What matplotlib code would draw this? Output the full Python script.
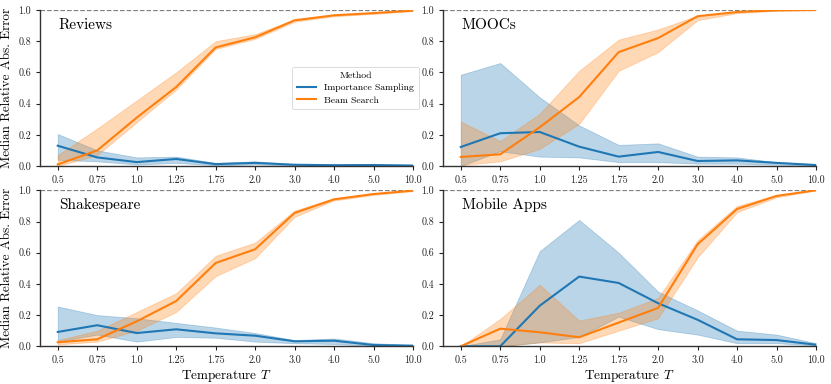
import numpy as np
import matplotlib
matplotlib.use("Agg")
import matplotlib.pyplot as plt

plt.rcParams['font.family'] = 'serif'
plt.rcParams['font.serif'] = ['cmr10', 'DejaVu Serif']
plt.rcParams['mathtext.fontset'] = 'cm'
plt.rcParams['axes.formatter.use_mathtext'] = True

temps = ["0.5", "0.75", "1.0", "1.25", "1.75", "2.0", "3.0", "4.0", "5.0", "10.0"]
datasets = ["Reviews", "MOOCs", "Shakespeare", "Mobile Apps"]

# Reviews
rev_is = [0.13, 0.055, 0.025, 0.045, 0.012, 0.02, 0.008, 0.005, 0.006, 0.003]
rev_is_lo = [0.04, 0.03, 0.01, 0.02, 0.005, 0.01, 0.004, 0.002, 0.002, 0.001]
rev_is_hi = [0.205, 0.10, 0.055, 0.06, 0.02, 0.03, 0.012, 0.01, 0.012, 0.006]
rev_bs = [0.01, 0.10, 0.31, 0.506, 0.76, 0.825, 0.934, 0.966, 0.98, 0.996]
rev_bs_lo = [0.0, 0.07, 0.28, 0.49, 0.75, 0.815, 0.925, 0.96, 0.975, 0.993]
rev_bs_hi = [0.07, 0.24, 0.42, 0.60, 0.80, 0.845, 0.94, 0.97, 0.985, 0.998]

# MOOCs
mooc_is = [0.122, 0.21, 0.218, 0.124, 0.06, 0.09, 0.032, 0.036, 0.02, 0.006]
mooc_is_lo = [0.0, 0.095, 0.06, 0.055, 0.025, 0.025, 0.015, 0.015, 0.008, 0.002]
mooc_is_hi = [0.585, 0.66, 0.44, 0.26, 0.135, 0.145, 0.06, 0.055, 0.025, 0.012]
mooc_bs = [0.058, 0.075, 0.248, 0.442, 0.73, 0.82, 0.96, 0.987, 0.998, 1.0]
mooc_bs_lo = [0.005, 0.03, 0.11, 0.27, 0.61, 0.73, 0.935, 0.98, 0.995, 1.0]
mooc_bs_hi = [0.285, 0.16, 0.335, 0.61, 0.81, 0.875, 0.965, 0.99, 1.0, 1.0]

# Shakespeare
shk_is = [0.092, 0.135, 0.085, 0.109, 0.083, 0.068, 0.032, 0.036, 0.008, 0.004]
shk_is_lo = [0.03, 0.075, 0.03, 0.06, 0.055, 0.03, 0.02, 0.015, 0.003, 0.001]
shk_is_hi = [0.255, 0.20, 0.18, 0.15, 0.12, 0.085, 0.04, 0.05, 0.02, 0.008]
shk_bs = [0.026, 0.045, 0.16, 0.29, 0.534, 0.622, 0.855, 0.942, 0.976, 0.998]
shk_bs_lo = [0.012, 0.03, 0.10, 0.22, 0.45, 0.565, 0.83, 0.935, 0.97, 0.995]
shk_bs_hi = [0.04, 0.10, 0.22, 0.34, 0.58, 0.665, 0.87, 0.95, 0.98, 1.0]

# Mobile Apps
app_is = [0.0, 0.0, 0.26, 0.447, 0.406, 0.276, 0.17, 0.045, 0.04, 0.01]
app_is_lo = [0.0, 0.0, 0.025, 0.06, 0.19, 0.11, 0.075, 0.02, 0.02, 0.005]
app_is_hi = [0.0, 0.045, 0.61, 0.81, 0.60, 0.35, 0.23, 0.10, 0.075, 0.02]
app_bs = [0.0, 0.113, 0.09, 0.058, 0.152, 0.246, 0.654, 0.88, 0.964, 1.0]
app_bs_lo = [0.0, 0.0, 0.025, 0.02, 0.10, 0.18, 0.57, 0.86, 0.955, 1.0]
app_bs_hi = [0.0, 0.175, 0.395, 0.165, 0.215, 0.31, 0.68, 0.90, 0.97, 1.0]

series = {
    "Reviews": (rev_is, rev_is_lo, rev_is_hi, rev_bs, rev_bs_lo, rev_bs_hi),
    "MOOCs": (mooc_is, mooc_is_lo, mooc_is_hi, mooc_bs, mooc_bs_lo, mooc_bs_hi),
    "Shakespeare": (shk_is, shk_is_lo, shk_is_hi, shk_bs, shk_bs_lo, shk_bs_hi),
    "Mobile Apps": (app_is, app_is_lo, app_is_hi, app_bs, app_bs_lo, app_bs_hi),
}

BLUE = '#1f77b4'
ORANGE = '#ff7f0e'

W, H = 831, 384
fig = plt.figure(figsize=(W / 100, H / 100), dpi=100)

def rect(x0, y0, x1, y1):
    return [x0 / W, (H - y1) / H, (x1 - x0) / W, (y1 - y0) / H]

rects = [rect(40, 10, 413, 166), rect(443, 10, 816, 166),
         rect(40, 190.3, 413, 346.3), rect(443, 190.3, 816, 346.3)]

x = np.arange(len(temps))
for i, name in enumerate(datasets):
    ax = fig.add_axes(rects[i])
    is_m, is_lo, is_hi, bs_m, bs_lo, bs_hi = series[name]
    ax.fill_between(x, is_lo, is_hi, color=BLUE, alpha=0.3, lw=0.6)
    ax.plot(x, is_m, color=BLUE, lw=1.5, label='Importance Sampling')
    ax.fill_between(x, bs_lo, bs_hi, color=ORANGE, alpha=0.3, lw=0.6)
    ax.plot(x, bs_m, color=ORANGE, lw=1.5, label='Beam Search')
    ax.axhline(1.0, color='gray', ls='--', lw=0.9, zorder=0)
    ax.set_xlim(-0.45, 9)
    ax.set_ylim(0, 1)
    ax.set_xticks(x)
    ax.set_xticklabels(temps)
    ax.set_yticks([0, 0.2, 0.4, 0.6, 0.8, 1.0])
    ax.set_yticklabels(["0.0", "0.2", "0.4", "0.6", "0.8", "1.0"])
    ax.tick_params(labelsize=7.2, length=3, width=0.8, colors='#222222')
    for s in ['top', 'right']:
        ax.spines[s].set_visible(False)
    for s in ['left', 'bottom']:
        ax.spines[s].set_linewidth(1.0)
        ax.spines[s].set_color('#333333')
    ax.text(0.05, 0.95, name, transform=ax.transAxes, ha='left', va='top', fontsize=11)
    if i % 2 == 0:
        ax.set_ylabel('Median Relative Abs. Error', fontsize=9.5, labelpad=4)
    if i >= 2:
        ax.set_xlabel('Temperature $T$', fontsize=9.5, labelpad=2)
    if i == 0:
        leg = ax.legend(title='Method', loc='upper left', bbox_to_anchor=(0.676, 0.635),
                        borderaxespad=0, fontsize=7, title_fontsize=7, frameon=True,
                        handlelength=2.0, borderpad=0.5, labelspacing=0.35)
        leg.get_frame().set_linewidth(0.6)

fig.savefig('out.png', dpi=100)
